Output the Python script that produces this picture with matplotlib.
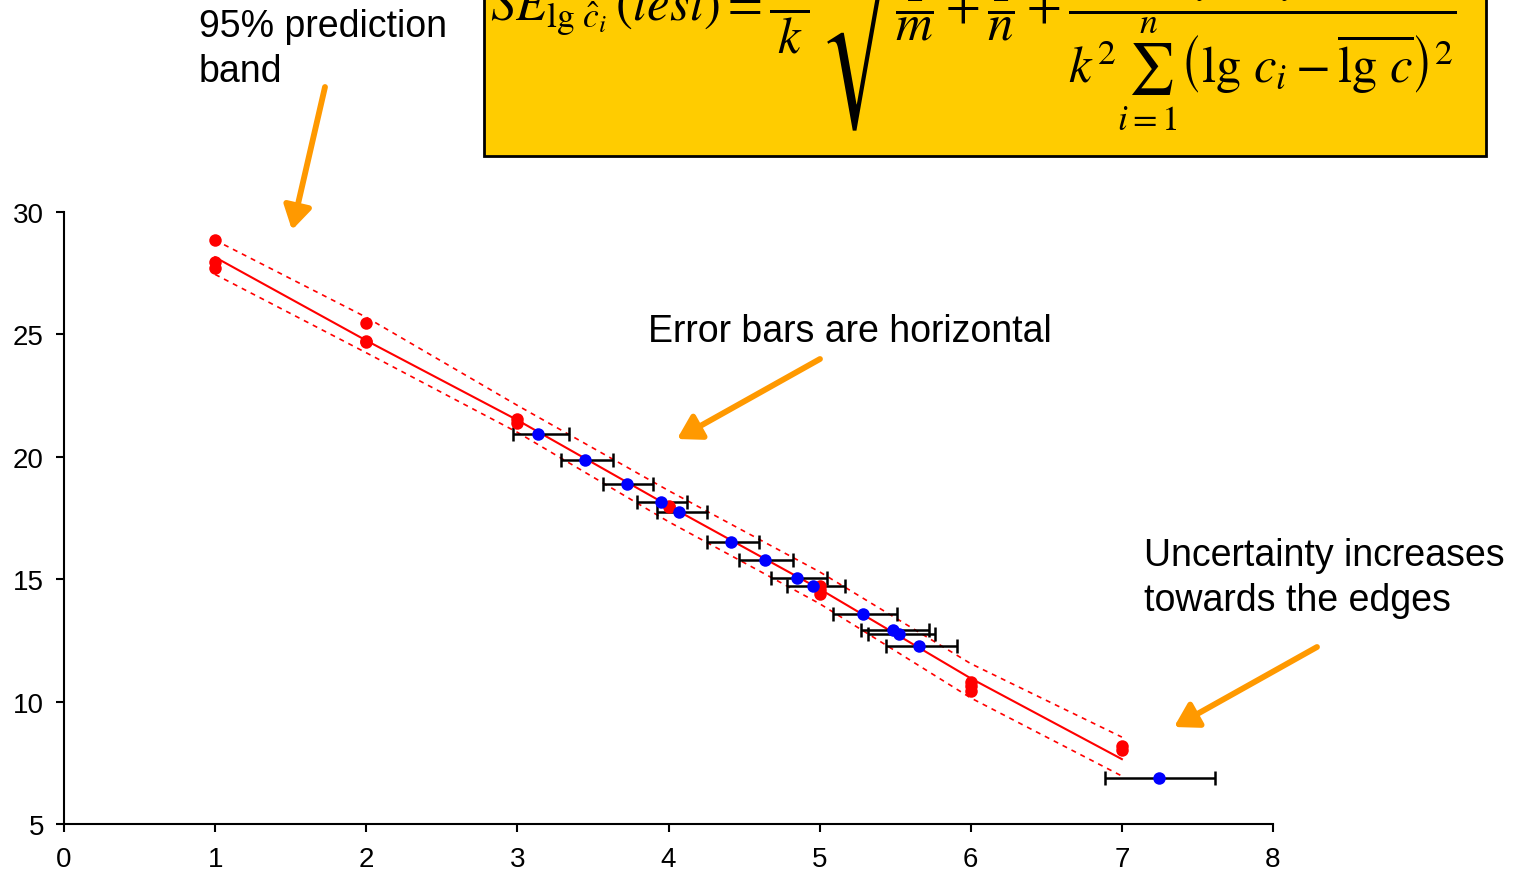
import numpy as np
import matplotlib
matplotlib.use("Agg")
import matplotlib.pyplot as plt
from matplotlib.patches import Rectangle, FancyArrowPatch

plt.rcParams['font.family'] = ['Liberation Sans', 'DejaVu Sans']
plt.rcParams['mathtext.fontset'] = 'stix'

# ---------------- data ----------------
# calibration standards (red)
cal_x = [1, 1, 1, 2, 2, 2, 3, 3, 4, 4, 5, 5, 5, 6, 6, 6, 7, 7]
cal_y = [28.87, 27.97, 27.70, 25.45, 24.75, 24.68, 21.55, 21.40, 18.00, 17.93,
         14.74, 14.55, 14.40, 10.80, 10.62, 10.45, 8.20, 8.02]

# regression line and 95% prediction band
fit_x = [1, 2, 3, 4, 5, 6, 7]
fit_y = [28.15, 24.75, 21.50, 18.00, 14.60, 10.95, 7.65]
band_upper = [28.85, 25.70, 22.10, 18.62, 15.30, 11.55, 8.55]
band_lower = [27.45, 24.25, 21.00, 17.35, 14.00, 10.15, 6.96]

# test samples (blue) with horizontal error bars
test_x = [3.139, 3.448, 3.724, 3.951, 4.070, 4.412, 4.639, 4.848, 4.954,
          5.286, 5.488, 5.526, 5.658, 7.244]
test_y = [20.93, 19.88, 18.90, 18.17, 17.76, 16.54, 15.80, 15.06, 14.74,
          13.58, 12.94, 12.76, 12.26, 6.88]
test_lo = [2.968, 3.289, 3.565, 3.792, 3.925, 4.255, 4.467, 4.679, 4.783,
           5.087, 5.275, 5.317, 5.436, 6.889]
test_hi = [3.342, 3.635, 3.896, 4.125, 4.255, 4.600, 4.827, 5.052, 5.167,
           5.511, 5.725, 5.764, 5.908, 7.617]

x_ticks = [0, 1, 2, 3, 4, 5, 6, 7, 8]
y_ticks = [5, 10, 15, 20, 25, 30]

W, H = 1519, 878
fig = plt.figure(figsize=(W / 100, H / 100), dpi=100)
ax = fig.add_axes([64 / W, 53 / H, 1209 / W, 612 / H])

RED = '#FF0000'
BLUE = '#0000FF'
ORANGE = '#FF9900'

ax.plot(fit_x, fit_y, color=RED, lw=1.5, zorder=2)
for yy in (band_upper, band_lower):
    ln, = ax.plot(fit_x, yy, color=RED, lw=1.2, zorder=2)
    ln.set_dashes((3, 3))

xerr = [np.array(test_x) - np.array(test_lo), np.array(test_hi) - np.array(test_x)]
ax.errorbar(test_x, test_y, xerr=xerr, fmt='none', ecolor='black',
            elinewidth=1.8, capsize=5, capthick=1.8, zorder=3)
ax.plot(cal_x, cal_y, 'o', color=RED, ms=9, mec='none', zorder=4)
ax.plot(test_x, test_y, 'o', color=BLUE, ms=9, mec='none', zorder=5)

ax.set_xlim(0, 8)
ax.set_ylim(5, 30)
ax.set_xticks(x_ticks)
ax.set_yticks(y_ticks)
for s in ('top', 'right'):
    ax.spines[s].set_visible(False)
for s in ('left', 'bottom'):
    ax.spines[s].set_linewidth(1.5)
ax.tick_params(axis='both', length=5.5, width=1.5, labelsize=20)
ax.tick_params(axis='x', pad=10)
ax.tick_params(axis='y', pad=9)

# ---------------- annotations ----------------
def fx(px):
    return px / W

def fy(py):
    return 1 - py / H

tfs = 27
fig.text(fx(199), fy(37), '95% prediction', fontsize=tfs, va='baseline')
fig.text(fx(199), fy(82), 'band', fontsize=tfs, va='baseline')
fig.text(fx(648), fy(342), 'Error bars are horizontal', fontsize=tfs, va='baseline')
fig.text(fx(1144), fy(566), 'Uncertainty increases', fontsize=tfs, va='baseline')
fig.text(fx(1144), fy(611), 'towards the edges', fontsize=tfs, va='baseline')

arrows = [((325, 88), (292, 231)),
          ((820, 360), (677, 440)),
          ((1317, 648), (1174, 728))]
for (tx, ty), (hx, hy) in arrows:
    fig.add_artist(FancyArrowPatch(
        (fx(tx), fy(ty)), (fx(hx), fy(hy)), transform=fig.transFigure,
        arrowstyle='-|>,head_length=0.7,head_width=0.42', mutation_scale=20,
        color=ORANGE, lw=4.2, shrinkA=0, shrinkB=0))

# formula box
box = Rectangle((fx(484), fy(157)), (1486 - 484) / W, 0.3, transform=fig.transFigure,
                facecolor='#FFCC00', edgecolor='black', lw=2, clip_on=False, zorder=1)
fig.add_artist(box)
formula = (r'$SE_{\lg\,\hat{c}_i}\,(test) = \dfrac{s_y}{k}\,'
           r'\sqrt{\dfrac{1}{m}+\dfrac{1}{n}+\dfrac{(\bar{y}_i-\bar{y})^2}'
           r'{k^2\sum_{i=1}^{n}\left(\lg\,c_i-\overline{\lg\,c}\right)^2}}$')
fig.text(fx(490), fy(21), formula, fontsize=36.5, va='baseline', ha='left', zorder=2)

fig.savefig('out.png', dpi=100)
